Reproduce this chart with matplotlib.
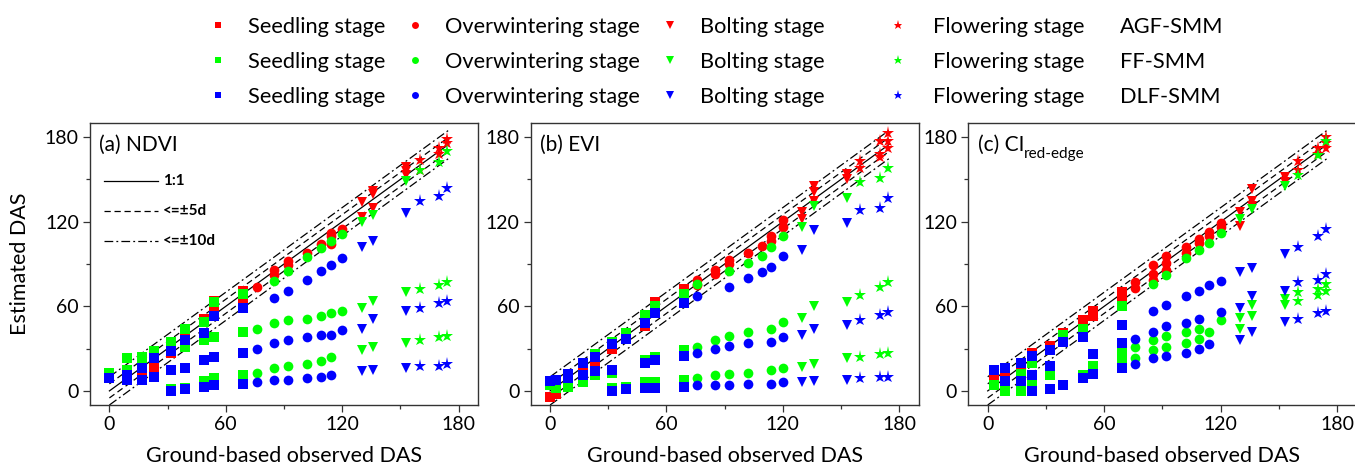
import numpy as np
import matplotlib.pyplot as plt
from matplotlib.lines import Line2D

plt.rcParams['font.family'] = ['Lato', 'DejaVu Sans']

stage_names = ['Seedling stage', 'Overwintering stage', 'Bolting stage', 'Flowering stage']
stage_markers = ['s', 'o', 'v', '*']
stage_bounds = [72, 125, 157]   # ground DAS where the next stage starts
model_names = ['AGF-SMM', 'FF-SMM', 'DLF-SMM']
model_colors = ['#ff0000', '#00ff00', '#0000ff']
ref_offsets = [0, 5, -5, 10, -10]
ref_range = [0, 175]

# (a) NDVI
ndvi_agf_x = [0, 9, 17, 23, 32, 39, 49, 54, 54, 69, 69,
              76, 85, 85, 92, 92, 102, 109, 114, 114, 114, 120,
              130, 130, 136, 136, 136, 153, 153, 153,
              160, 160, 170, 170, 174, 174]
ndvi_agf_y = [10, 11, 13, 16, 27, 37, 51, 58, 64, 66, 71,
              74, 82, 86, 89, 92, 98, 104, 104, 110, 112, 115,
              123, 134, 130, 140, 142, 153, 156, 159,
              157, 164, 168, 172, 176, 179]
ndvi_ff_x = [0, 9, 9, 17, 17, 23, 32, 32, 39, 39, 39, 49, 49, 49, 54, 54, 54, 69, 69, 69,
             76, 76, 85, 85, 85, 92, 92, 92, 102, 102, 102, 109, 109, 109, 114, 114, 114, 120, 120,
             130, 130, 130, 136, 136, 136, 153, 153, 153,
             160, 160, 160, 170, 170, 170, 174, 174, 174]
ndvi_ff_y = [13, 15, 23, 20, 24, 28, 35, 1, 31, 44, 2, 36, 49, 7, 38, 63, 9, 42, 69, 11,
             44, 13, 78, 48, 16, 85, 50, 18, 95, 51, 19, 101, 53, 21, 106, 55, 24, 111, 57,
             120, 59, 29, 125, 64, 31, 149, 70, 34,
             157, 72, 36, 162, 75, 38, 170, 77, 39]
ndvi_dlf_x = [0, 9, 9, 17, 17, 23, 23, 32, 32, 32, 39, 39, 39, 49, 49, 49, 54, 54, 54, 69, 69, 69,
              76, 76, 85, 85, 85, 92, 92, 92, 102, 102, 102, 109, 109, 109, 114, 114, 114, 120, 120,
              130, 130, 130, 136, 136, 136, 153, 153, 153,
              160, 160, 160, 170, 170, 170, 174, 174, 174]
ndvi_dlf_y = [9, 11, 8, 16, 8, 23, 10, 28, 15, 0, 36, 16, 1, 41, 22, 3, 53, 24, 4, 59, 27, 5,
              30, 6, 66, 34, 8, 71, 36, 8, 79, 38, 9, 85, 40, 10, 89, 40, 11, 94, 43,
              102, 44, 14, 106, 51, 15, 126, 57, 16,
              135, 59, 18, 138, 62, 18, 144, 64, 19]

# (b) EVI
evi_agf_x = [0, 3, 9, 17, 23, 32, 39, 49, 54, 54, 69, 69,
             76, 76, 85, 85, 92, 92, 102, 109, 114, 114, 120, 120,
             130, 130, 136, 136, 136, 153, 153,
             160, 160, 170, 170, 170, 174, 174, 174]
evi_agf_y = [-4, -2, 8, 15, 21, 30, 37, 46, 57, 63, 67, 72,
             75, 79, 83, 86, 90, 93, 98, 103, 106, 110, 116, 121,
             122, 127, 135, 141, 145, 150, 154,
             158, 163, 166, 168, 177, 172, 177, 183]
evi_ff_x = [0, 3, 9, 17, 23, 23, 32, 32, 32, 39, 39, 49, 49, 49, 54, 54, 54, 69, 69, 69,
            76, 76, 76, 85, 85, 92, 92, 92, 102, 102, 102, 109, 114, 114, 114, 120, 120, 120,
            130, 130, 130, 136, 136, 136, 153, 153, 153,
            160, 160, 160, 170, 170, 170, 174, 174, 174]
evi_ff_y = [4, 2, 3, 6, 26, 11, 35, 13, 2, 41, 3, 54, 22, 6, 60, 24, 6, 69, 29, 8,
            76, 31, 9, 36, 11, 85, 39, 12, 91, 42, 13, 96, 102, 44, 15, 110, 49, 16,
            116, 52, 17, 131, 60, 19, 137, 63, 23,
            148, 68, 24, 151, 74, 26, 158, 77, 27]
evi_dlf_x = [0, 3, 9, 9, 17, 17, 23, 23, 32, 32, 32, 39, 39, 49, 49, 49, 54, 54, 54, 69, 69, 69,
             76, 76, 76, 85, 85, 92, 92, 92, 102, 102, 102, 109, 114, 114, 114, 120, 120, 120,
             130, 130, 130, 136, 136, 136, 153, 153, 153,
             160, 160, 160, 170, 170, 170, 174, 174, 174]
evi_dlf_y = [7, 8, 12, 9, 20, 11, 24, 14, 33, 15, 0, 37, 1, 48, 20, 2, 55, 22, 2, 62, 25, 3,
             67, 27, 4, 30, 4, 74, 32, 4, 80, 34, 5, 84, 88, 35, 5, 96, 38, 6,
             100, 40, 6, 114, 44, 7, 119, 47, 8,
             128, 50, 9, 130, 54, 10, 137, 56, 10]

# (c) CI red-edge
ci_agf_x = [3, 9, 17, 23, 32, 39, 49, 54, 54, 69, 69,
            76, 76, 85, 85, 85, 92, 92, 92, 102, 102, 109, 109, 114, 114, 120, 120,
            130, 130, 136, 136, 136, 153, 153,
            160, 160, 170, 170, 174, 174, 174]
ci_agf_y = [8, 11, 16, 27, 32, 41, 50, 53, 57, 65, 70,
            73, 77, 79, 83, 89, 86, 91, 96, 98, 102, 105, 108, 110, 113, 116, 119,
            117, 127, 131, 135, 143, 148, 152,
            157, 163, 168, 172, 172, 176, 180]
ci_ff_x = [3, 9, 17, 17, 23, 23, 32, 39, 49, 49, 54, 54, 69, 69, 69,
           76, 76, 85, 85, 85, 92, 92, 92, 102, 102, 102, 109, 109, 109, 114, 114, 120, 120,
           130, 130, 130, 136, 136, 136, 153, 153, 153,
           160, 160, 160, 170, 170, 170, 174, 174, 174]
ci_ff_y = [4, 0, 12, 0, 20, 4, 11, 40, 44, 11, 18, 14, 60, 27, 20,
           31, 23, 76, 36, 29, 82, 39, 31, 94, 42, 34, 100, 44, 37, 105, 42, 112, 50,
           122, 52, 44, 129, 61, 53, 145, 65, 61,
           153, 70, 64, 167, 72, 68, 177, 76, 71]
ci_dlf_x = [3, 9, 9, 17, 17, 23, 23, 23, 32, 32, 32, 39, 39, 49, 49, 54, 54, 69, 69, 69,
            76, 76, 85, 85, 85, 92, 92, 92, 102, 102, 102, 109, 109, 109, 114, 114, 120, 120,
            130, 130, 130, 136, 136, 136, 153, 153, 153,
            160, 160, 160, 170, 170, 170, 174, 174, 174]
ci_dlf_y = [15, 16, 7, 20, 7, 25, 11, 0, 29, 18, 1, 35, 4, 38, 9, 26, 12, 47, 34, 16,
            37, 19, 57, 42, 23, 61, 46, 25, 67, 48, 27, 71, 51, 30, 75, 33, 78, 56,
            84, 59, 36, 87, 67, 42, 97, 71, 49,
            102, 77, 51, 110, 79, 55, 115, 83, 57]

panels = [
    ('(a) NDVI', [(ndvi_agf_x, ndvi_agf_y), (ndvi_ff_x, ndvi_ff_y), (ndvi_dlf_x, ndvi_dlf_y)]),
    ('(b) EVI', [(evi_agf_x, evi_agf_y), (evi_ff_x, evi_ff_y), (evi_dlf_x, evi_dlf_y)]),
    ('(c) CI', [(ci_agf_x, ci_agf_y), (ci_ff_x, ci_ff_y), (ci_dlf_x, ci_dlf_y)]),
]

msize = {'s': 6.5, 'o': 7, 'v': 7.5, '*': 9.5}
dashdot = (0, (7, 2.5, 1.5, 2.5))
ref_styles = ['-', (0, (5, 3)), (0, (5, 3)), dashdot, dashdot]

W, H = 1355, 466
fig = plt.figure(figsize=(W / 100, H / 100), dpi=100)

# axes boxes in pixels: left, right, top, bottom
boxes = [(90, 478, 123, 405), (530.7, 918.6, 123, 405), (968.3, 1356.6, 123, 405)]
axes = []
for (l, r, t, b) in boxes:
    axes.append(fig.add_axes([l / W, 1 - b / H, (r - l) / W, (b - t) / H]))

for ax, (title, series) in zip(axes, panels):
    xr = np.array(ref_range)
    for off, st in zip(ref_offsets, ref_styles):
        ax.plot(xr, xr + off, color='black', lw=0.9, ls=st, zorder=1)
    for (xs, ys), color in zip(series, model_colors):
        xs = np.asarray(xs)
        ys = np.asarray(ys)
        stage = np.digitize(xs, stage_bounds)
        for k, m in enumerate(stage_markers):
            sel = stage == k
            ax.plot(xs[sel], ys[sel], ls='none', marker=m, ms=msize[m],
                    color=color, mew=0, zorder=2)
    ax.set_xlim(-10, 190)
    ax.set_ylim(-10, 190)
    ax.set_xticks([0, 60, 120, 180])
    ax.set_yticks([0, 60, 120, 180])
    ax.set_xticks([30, 90, 150], minor=True)
    ax.set_yticks([30, 90, 150], minor=True)
    ax.tick_params(which='major', direction='out', length=5, width=0.9,
                   labelsize=14, pad=3, color='#333333')
    ax.tick_params(which='minor', direction='out', length=3, width=0.9, color='#333333')
    for sp in ax.spines.values():
        sp.set_linewidth(1.0)
        sp.set_color('#333333')
    ax.set_xlabel('Ground-based observed DAS', fontsize=15.5)
    ax.xaxis.set_label_coords(0.5, -0.145)
    t = ax.text(0.024, 0.922, title, transform=ax.transAxes, fontsize=15, va='center')
    if title.startswith('(c)'):
        ax.annotate('red-edge', xy=(1, 0.05), xycoords=t, fontsize=11,
                    ha='left', va='center')

axes[0].set_ylabel('Estimated DAS', fontsize=15.5)
axes[0].yaxis.set_label_coords(-0.155, 0.5)

# line-style key inside panel (a)
key_labels = ['1:1', '<=\u00b15d', '<=\u00b110d']
key_styles = ['-', (0, (5, 3)), dashdot]
for k, (lab, st) in enumerate(zip(key_labels, key_styles)):
    yk = 0.795 - 0.106 * k
    axes[0].add_line(Line2D([0.036, 0.175], [yk, yk], transform=axes[0].transAxes,
                            color='black', lw=0.9, ls=st))
    axes[0].text(0.188, yk, lab, transform=axes[0].transAxes, fontsize=11,
                 fontweight='bold', va='center')

# top legend, built by hand so the model names sit in their own column
leg_marker_x = [218, 415, 670, 898]
leg_text_x = [248, 445, 700, 933]
leg_model_x = 1120
leg_row_y = [25, 60, 95]
leg_ms = {'s': 4.5, 'o': 5, 'v': 5.5, '*': 6.5}
for r, (mname, color) in enumerate(zip(model_names, model_colors)):
    yf = 1 - leg_row_y[r] / H
    yb = 1 - (leg_row_y[r] + 8) / H
    for c, (sname, m) in enumerate(zip(stage_names, stage_markers)):
        fig.add_artist(Line2D([leg_marker_x[c] / W], [yf], transform=fig.transFigure,
                              ls='none', marker=m, ms=leg_ms[m], color=color, mew=0))
        fig.text(leg_text_x[c] / W, yb, sname, fontsize=15.7, va='baseline')
    fig.text(leg_model_x / W, yb, mname, fontsize=15.7, va='baseline')

fig.savefig('out.png', dpi=100)
